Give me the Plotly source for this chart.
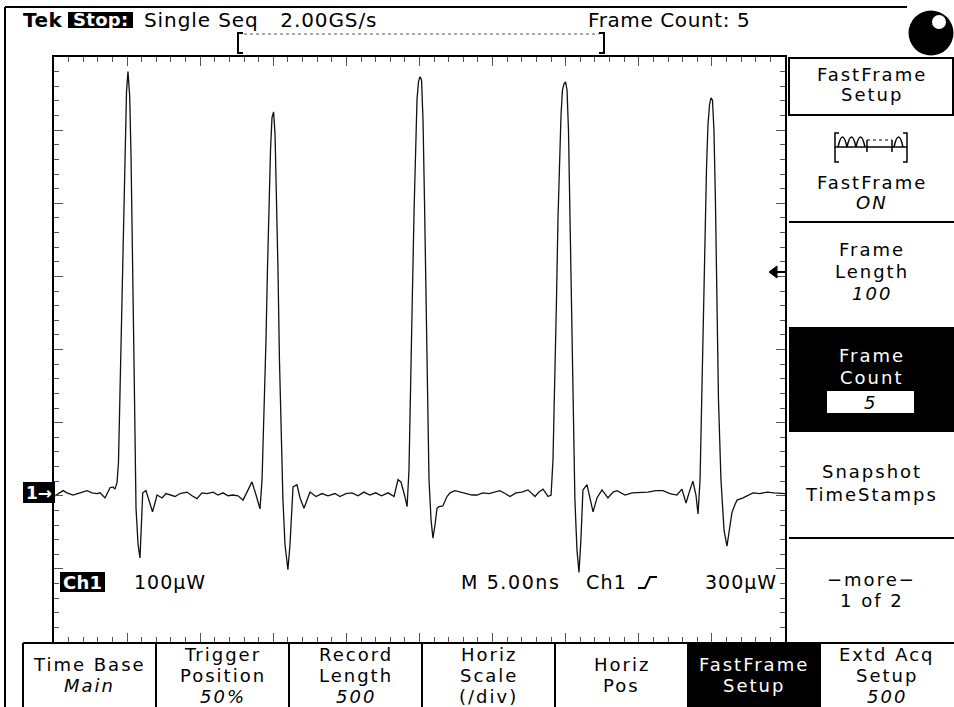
import plotly.graph_objects as go

# ---------------- data (sample index, optical power in µW relative to ground marker) -------------
frame1_samples = [0, 6.2, 8.9, 13, 17.8, 22.6, 26, 29.4, 31.5, 34.9, 38.3, 40.4, 41.7, 43.1, 44.1, 45.1,
                  45.8, 46.6, 47.7, 48.8, 49.6, 50.6, 51.8, 52.7, 53.8, 54.9, 56.1, 57.5, 58.8, 59.8, 60.7,
                  62.9, 65, 67.4, 70.5, 73.9, 76.6, 79.3, 82.8, 86.2, 91, 94.4, 97.8]
frame1_uW = [-5, 3, 0, -3, 0, 3, 0, -1, 0, -7, 7, 8, 5, 14, 41, 127, 209, 278, 383, 481, 549, 576, 542,
             458, 328, 155, -21, -71, -89, -51, 0, 3, -10, -26, -3, -7, -1, -3, -5, -1, 1, -4, -8]

frame2_samples = [101.2, 104.7, 108.8, 112.2, 115.6, 119, 122.4, 125.9, 129.3, 132.7, 135.4, 138.2, 140.9,
                  142.3, 143.6, 145, 146, 147, 148.1, 149.1, 150.2, 151.2, 152.2, 153.2, 154.2, 155.3, 156.6,
                  158, 160, 161.4, 163.5, 166.2, 168.3, 171, 175.1, 179.2, 183.3, 187.4, 192.2, 195.6, 199.7]
frame2_uW = [0, -1, 1, -3, 0, -4, -3, -4, -10, 4, 15, -3, -22, 18, 100, 209, 305, 401, 469, 513, 521, 490,
             415, 305, 182, 73, -10, -71, -105, -71, 8, 11, -7, -21, 1, -5, -1, -4, -1, -5, -1]

frame3_samples = [203.8, 208, 212, 216, 220, 224, 228.5, 232.6, 235.3, 237.3, 240, 241.5, 242.8, 244.2,
                  245.2, 246.3, 247.3, 248.3, 249.3, 250.3, 251.4, 252.4, 253.4, 254.4, 255.5, 256.5, 257.9,
                  259.2, 260.6, 262, 263.3, 266, 268.8, 270.9, 274.3, 277.7, 281.8, 285.9, 289.3, 293.4,
                  297.5, 301.6]
frame3_uW = [0, -4, 1, -3, 0, -4, 0, -5, 18, 15, -5, -19, 31, 155, 278, 387, 483, 538, 562, 569, 565, 510,
             401, 264, 127, 18, -37, -62, -44, -21, -19, -18, -5, 0, 3, 1, -1, -3, -3, 0, -1, 1]

frame4_samples = [305, 308.5, 311.9, 316, 320, 324.2, 329, 331.7, 334.5, 337.9, 340, 341.3, 342.7, 343.7,
                  344.7, 345.8, 346.8, 347.8, 348.8, 349.9, 350.9, 351.9, 352.9, 353.9, 355, 356.3, 357.7,
                  359.1, 360.4, 361.8, 364.6, 366.6, 368.7, 371.4, 374.8, 378.9, 382.4, 385.1, 390.6, 395.4,
                  400.8]
frame4_uW = [3, -1, -5, 0, 1, 4, -5, 1, 5, -5, -3, 45, 155, 264, 373, 455, 517, 551, 559, 562, 551, 496,
             387, 250, 114, -10, -78, -109, -64, 4, 11, -7, -26, -7, 4, -7, 1, 3, -3, 0, 0]

frame5_samples = [406.3, 411.7, 416.5, 421.3, 426.1, 429.5, 432.3, 435, 437, 439.1, 440.5, 441.9, 443.2,
                  444.3, 445.3, 446.3, 447.3, 448.4, 449.4, 450.4, 451.4, 452.4, 453.5, 454.5, 456.2, 458.3,
                  460.3, 462.4, 463.7, 465.8, 467.2, 471.3, 474.7, 478.1, 482.9, 487.7, 492.5, 496.6, 500]
frame5_uW = [1, 3, 3, -1, -3, 5, -14, 4, 16, -3, -29, 18, 127, 237, 346, 442, 503, 531, 540, 537, 496, 401,
             264, 127, 18, -51, -73, -44, -27, -16, -10, -7, -3, 0, -1, 1, 0, 0, -1]

record_length = 500          # samples across the screen (5 frames x 100)
volts_per_div = 100          # µW / div
ground_offset = -204         # bottom of screen relative to ground marker (µW)

# ---------------- figure ----------------
W, H = 954, 707
PL, PR, PT, PB = 54, 785, 57, 642
FONT = "DejaVu Sans"
MENU_SIZE = 18
MENU_SPACING = 2.0


def px(x):
    return x / W


def py(y):
    return 1 - y / H


samples = frame1_samples + frame2_samples + frame3_samples + frame4_samples + frame5_samples
power = frame1_uW + frame2_uW + frame3_uW + frame4_uW + frame5_uW

fig = go.Figure()
fig.add_trace(go.Scatter(x=samples, y=power, mode="lines",
                         line=dict(color="#111111", width=1.3),
                         hoverinfo="skip", showlegend=False))
# invisible copy on the mirrored (top / right) graticule axes so their ticks are drawn
fig.add_trace(go.Scatter(x=samples, y=power, mode="lines", xaxis="x2", yaxis="y2",
                         line=dict(color="rgba(0,0,0,0)", width=0),
                         hoverinfo="skip", showlegend=False))

tick_color = "#555555"
xr = [0, record_length]
yr = [ground_offset, ground_offset + 8 * volts_per_div]


def xaxis_cfg(**extra):
    d = dict(range=xr, showgrid=False, zeroline=False,
             ticks="inside", ticklen=9, tickwidth=1, tickcolor=tick_color,
             tick0=0, dtick=record_length / 10, showticklabels=False, fixedrange=True,
             minor=dict(ticks="inside", ticklen=5, tickwidth=1, tickcolor=tick_color,
                        tick0=0, dtick=record_length / 50, showgrid=False))
    d.update(extra)
    return d


def yaxis_cfg(**extra):
    d = dict(range=yr, showgrid=False, zeroline=False,
             ticks="inside", ticklen=9, tickwidth=1, tickcolor=tick_color,
             tick0=ground_offset, dtick=volts_per_div, showticklabels=False, fixedrange=True,
             minor=dict(ticks="inside", ticklen=5, tickwidth=1, tickcolor=tick_color,
                        tick0=ground_offset, dtick=volts_per_div / 5, showgrid=False))
    d.update(extra)
    return d


fig.update_layout(
    width=W, height=H, margin=dict(l=0, r=0, t=0, b=0),
    paper_bgcolor="white", plot_bgcolor="white", showlegend=False,
    xaxis=xaxis_cfg(domain=[px(PL), px(PR)], showline=True, linecolor="black", linewidth=2, mirror=True),
    yaxis=yaxis_cfg(domain=[py(PB), py(PT)], showline=True, linecolor="black", linewidth=2, mirror=True),
    xaxis2=xaxis_cfg(overlaying="x", side="top", anchor="y", showline=False),
    yaxis2=yaxis_cfg(overlaying="y", side="right", anchor="x", showline=False),
)

shapes = []


def rect(x0, y0, x1, y1, fill=None, lw=2, color="black"):
    shapes.append(dict(type="rect", xref="paper", yref="paper", x0=px(x0), x1=px(x1), y0=py(y1), y1=py(y0),
                       line=dict(color=color, width=lw) if lw else dict(width=0),
                       fillcolor=fill if fill else "rgba(0,0,0,0)", layer="above"))


def line(x0, y0, x1, y1, lw=2, color="black", dash="solid"):
    shapes.append(dict(type="line", xref="paper", yref="paper", x0=px(x0), x1=px(x1), y0=py(y0), y1=py(y1),
                       line=dict(color=color, width=lw, dash=dash), layer="above"))


def path(d_points, lw=2, color="black", fill=None, closed=False):
    parts = []
    for cmd, *xy in d_points:
        coords = " ".join(f"{px(xy[i]):.5f},{py(xy[i + 1]):.5f}" for i in range(0, len(xy), 2))
        parts.append(f"{cmd} {coords}")
    d = " ".join(parts) + (" Z" if closed else "")
    shapes.append(dict(type="path", xref="paper", yref="paper", path=d,
                       line=dict(color=color, width=lw),
                       fillcolor=fill if fill else "rgba(0,0,0,0)", layer="above"))


def circle(cx, cy, r, fill):
    shapes.append(dict(type="circle", xref="paper", yref="paper", x0=px(cx - r), x1=px(cx + r),
                       y0=py(cy + r), y1=py(cy - r), fillcolor=fill, line=dict(width=0), layer="above"))


# outer frame
line(5, 7, 907, 7, lw=2)
line(5, 7, 5, 707, lw=2)

# top bar: bracket with dotted record indicator
path([("M", 243, 33), ("L", 238, 33), ("L", 238, 53), ("L", 243, 53)], lw=2)
path([("M", 599, 33), ("L", 604, 33), ("L", 604, 53), ("L", 599, 53)], lw=2)
line(244, 34, 599, 34, lw=1, color="#555555", dash="dot")

# Stop: inverse box
rect(68, 12, 133, 28, fill="black", lw=0)

# status circle
circle(931, 33, 22.5, "black")
circle(939, 22, 7, "white")

# right-side menu
rect(789, 58, 953, 115, lw=2)
line(789, 222, 954, 222, lw=2)
rect(789, 327, 954, 432, fill="black", lw=0)
rect(827, 391, 914, 413, fill="white", lw=0)
line(789, 538, 954, 538, lw=2)

# fastframe icon
path([("M", 839, 133), ("L", 835, 133), ("L", 835, 162), ("L", 839, 162)], lw=1.5)
path([("M", 903, 133), ("L", 907, 133), ("L", 907, 162), ("L", 903, 162)], lw=1.5)
line(835, 147, 907, 147, lw=1.5)
for xs in (838, 847, 856):
    path([("M", xs, 147), ("Q", xs + 4.5, 127, xs + 9, 147)], lw=1.5)
path([("M", 894, 147), ("Q", 898.5, 127, 903, 147)], lw=1.5)
line(867, 140, 892, 140, lw=1.2, dash="dot")
line(867, 140, 867, 152, lw=1.5)
line(892, 140, 892, 152, lw=1.5)

# trigger level arrow at right edge
line(775, 272, 785, 272, lw=2)
path([("M", 769, 272), ("L", 777, 266), ("L", 777, 278)], lw=1, fill="black", closed=True)

# bottom menu
line(23, 643, 954, 643, lw=2)
for xv in (23, 156, 289, 422, 555, 688, 820):
    line(xv, 643, xv, 707, lw=2)
rect(688, 643, 820, 707, fill="black", lw=0)

# channel marker and Ch1 box
rect(23, 482, 55, 503, fill="black", lw=0)
rect(60, 572, 105, 592, fill="black", lw=0)

# trigger slope symbol
path([("M", 638, 588), ("L", 645, 588), ("L", 650, 577), ("L", 657, 577)], lw=2)

fig.update_layout(shapes=shapes)


def label(text, x, y, size=MENU_SIZE, color="black", bold=False, italic=False, anchor="center",
          spacing=MENU_SPACING):
    t = text
    if bold:
        t = f"<b>{t}</b>"
    if italic:
        t = f"<i>{t}</i>"
    if spacing:
        t = f'<span style="letter-spacing:{spacing}px">{t}</span>'
    fig.add_annotation(x=px(x), y=py(y), xref="paper", yref="paper", text=t, showarrow=False,
                       xanchor=anchor, yanchor="middle", borderpad=0,
                       font=dict(family=FONT, size=size, color=color))


# top status line
label("Tek", 22, 20, size=20, bold=True, anchor="left", spacing=0.5)
label("Stop:", 100.5, 20, size=18, bold=True, color="white", spacing=0.3)
label("Single Seq&nbsp;&nbsp;&nbsp;2.00GS/s", 143, 20, size=20, anchor="left", spacing=0.9)
label("Frame Count: 5", 587, 20, size=20, anchor="left", spacing=0.6)

# right menu labels
CX = 871.5
label("FastFrame", CX, 74)
label("Setup", CX, 95)
label("FastFrame", CX, 182)
label("ON", CX, 202, italic=True)
label("Frame", CX, 249)
label("Length", CX, 271)
label("100", CX, 294, italic=True)
label("Frame", CX, 356, color="white")
label("Count", CX, 377, color="white")
label("5", CX - 1, 402, italic=True)
label("Snapshot", CX, 472)
label("TimeStamps", CX, 494)
label("\u2212more\u2212", CX, 579)
label("1 of 2", CX, 600)

# bottom menu labels
menu = [
    (89.5, ["Time Base", "Main"], [False, True], "black"),
    (222.5, ["Trigger", "Position", "50%"], [False, False, True], "black"),
    (355.5, ["Record", "Length", "500"], [False, False, True], "black"),
    (488.5, ["Horiz", "Scale", "(/div)"], [False, False, False], "black"),
    (621.5, ["Horiz", "Pos"], [False, False], "black"),
    (754, ["FastFrame", "Setup"], [False, False], "white"),
    (887, ["Extd Acq", "Setup", "500"], [False, False, True], "black"),
]
for cx, lines_, ital, col in menu:
    ys = [664, 685] if len(lines_) == 2 else [654, 675, 696]
    for txt, yy, it in zip(lines_, ys, ital):
        label(txt, cx, yy, color=col, italic=it)

# in-graticule readouts
label("1\u2192", 39, 492.5, size=17, bold=True, color="white", spacing=0)
label("Ch1", 82.5, 582, size=18, bold=True, color="white", spacing=0.3)
label("100\u00b5W", 133, 582, size=19, anchor="left", spacing=1.0)
label("M 5.00ns", 460, 582, size=19, anchor="left", spacing=1.6)
label("Ch1", 585, 582, size=19, anchor="left", spacing=1.2)
label("300\u00b5W", 778, 582, size=19, anchor="right", spacing=1.0)

fig.write_html("out.html")
